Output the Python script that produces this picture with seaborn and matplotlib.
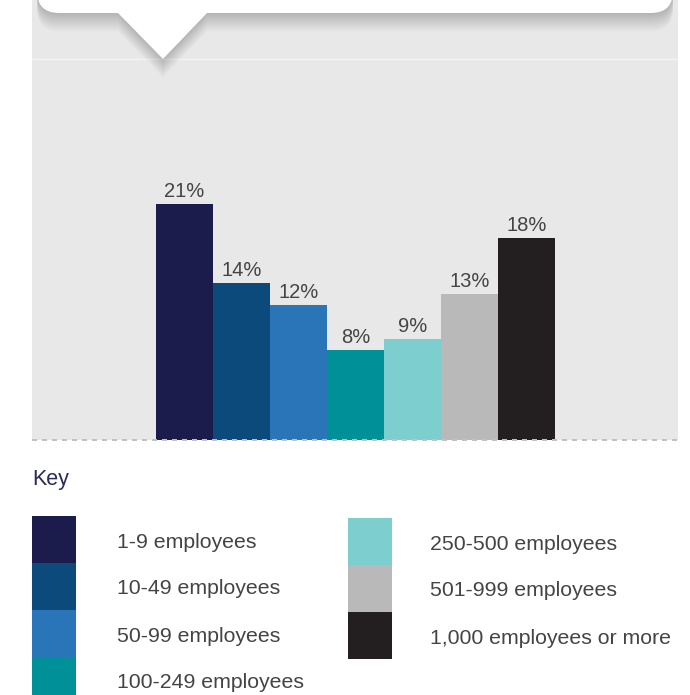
import numpy as np
import pandas as pd
import matplotlib
matplotlib.use("Agg")
import matplotlib.pyplot as plt
from matplotlib.path import Path
from matplotlib.patches import PathPatch, Rectangle
from matplotlib.transforms import Affine2D
import seaborn as sns

categories = ["1-9 employees", "10-49 employees", "50-99 employees", "100-249 employees",
              "250-500 employees", "501-999 employees", "1,000 employees or more"]
values = [21, 14, 12, 8, 9, 13, 18]
colors = ["#1c1c4c", "#0b4a7a", "#2a74b8", "#009097", "#7dcfcf", "#b9b9b9", "#231f20"]
key_title = "Key"

sns.set_style("white")
plt.rcParams["font.family"] = ["Liberation Sans", "DejaVu Sans"]

W, H = 690, 695
fig = plt.figure(figsize=(W / 100, H / 100), dpi=100)
fig.patch.set_facecolor("white")

# main chart axes (pixel box x 32..678, y 0..440)
ax = fig.add_axes([32 / W, 1 - 440 / H, 646 / W, 440 / H])
ax.set_facecolor("#e8e8e8")
df = pd.DataFrame({"cat": categories, "val": values})
sns.barplot(data=df, x="cat", y="val", hue="cat", palette=colors, width=1.0,
            saturation=1, legend=False, ax=ax, order=categories, hue_order=categories)
for p in ax.patches:
    p.set_linewidth(0)
px_per_unit = 57.0
px_per_pct = 11.22
ax.set_xlim((32 - 184.5) / px_per_unit, (678 - 184.5) / px_per_unit)
ax.set_ylim(0, 440 / px_per_pct)
for s in ax.spines.values():
    s.set_visible(False)
ax.set_xticks([])
ax.set_yticks([])
ax.set_xlabel("")
ax.set_ylabel("")

for i, v in enumerate(values):
    ax.annotate(f"{v}%", (i, v), xytext=(0, 5), textcoords="offset points",
                ha="center", va="baseline", fontsize=14.5, color="#444444")

# dashed baseline
ax.axhline(0, color="#c2c2c2", lw=1.44, dashes=(2.5, 2.5), clip_on=False, zorder=5)
# light line beneath the bubble
ax.axhline((440 - 59) / px_per_pct, color="#f3f3f3", lw=1.0, zorder=0.5)

# overlay in pixel coordinates
ov = fig.add_axes([0, 0, 1, 1])
ov.set_xlim(0, W)
ov.set_ylim(H, 0)
ov.axis("off")
ov.patch.set_alpha(0)

def bubble_path(x0=37, x1=673, yb=13, r=22, t0=118, tip=(163, 59), t1=207):
    verts = [(x0, -40), (x0, yb - r), (x0, yb), (x0 + r, yb),
             (t0, yb), tip, (t1, yb), (x1 - r, yb), (x1, yb), (x1, yb - r),
             (x1, -40), (x0, -40)]
    codes = [Path.MOVETO, Path.LINETO, Path.CURVE3, Path.CURVE3,
             Path.LINETO, Path.LINETO, Path.LINETO, Path.LINETO, Path.CURVE3, Path.CURVE3,
             Path.LINETO, Path.CLOSEPOLY]
    return Path(verts, codes)

bp = bubble_path()
for k in range(1, 18):
    sp = bp.transformed(Affine2D().translate(0, k * 1.1))
    ov.add_patch(PathPatch(sp, facecolor="black", edgecolor="none", alpha=0.010, zorder=1))
ov.add_patch(PathPatch(bp, facecolor="white", edgecolor="none", zorder=2))

# key
ov.text(32, 480, key_title, fontsize=15.5, color="#2b2b58", ha="left", va="center")
for i, (lab, c) in enumerate(zip(categories, colors)):
    if i < 4:
        x0, y0, w, h, tx = 32, 516 + 47 * i, 43.5, 47, 117
    else:
        j = i - 4
        x0, y0, w, h, tx = 348, 518 + 47 * j, 44, 47, 430
    ov.add_patch(Rectangle((x0, y0), w, h, facecolor=c, edgecolor="none"))
    ov.text(tx, y0 + h / 2 + 2.5, lab, fontsize=15.3, color="#444444", ha="left", va="center")

fig.savefig("out.png", dpi=100)
